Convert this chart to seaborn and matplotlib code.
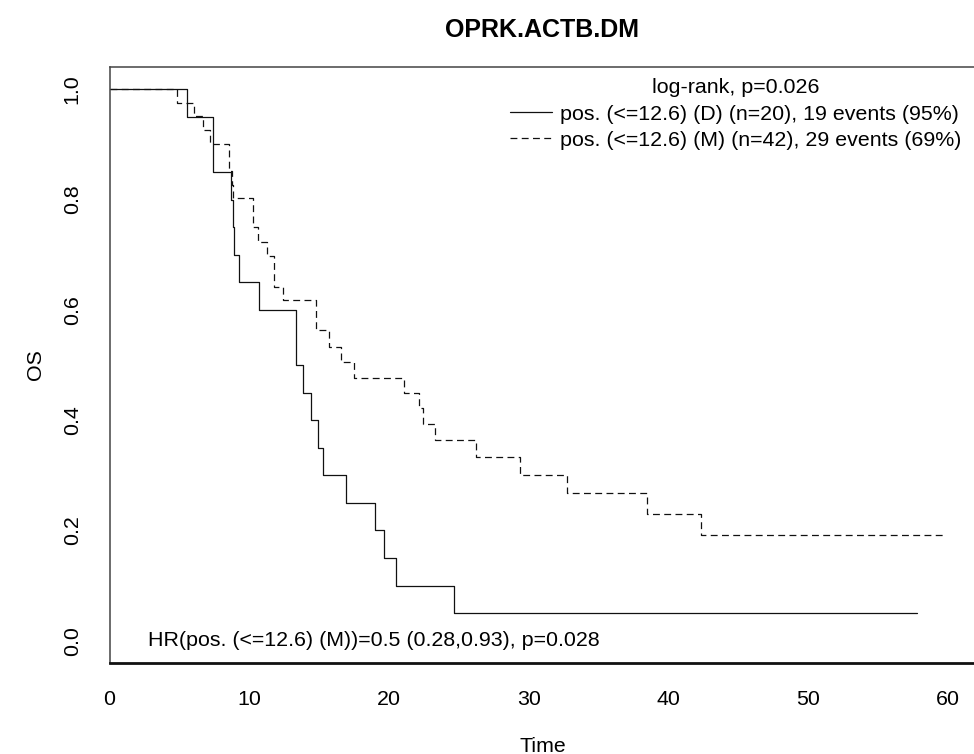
import matplotlib
matplotlib.use("Agg")
import matplotlib.pyplot as plt
import seaborn as sns
import pandas as pd

# ---- data ----
title = "OPRK.ACTB.DM"
x_label = "Time"
y_label = "OS"
legend_title = "log-rank, p=0.026"
label_D = "pos. (<=12.6) (D) (n=20), 19 events (95%)"
label_M = "pos. (<=12.6) (M) (n=42), 29 events (69%)"
hr_text = "HR(pos. (<=12.6) (M))=0.5 (0.28,0.93), p=0.028"

times_D = [0, 5.53, 7.43, 8.68, 8.86, 8.91, 9.29, 10.72, 13.33, 13.83, 14.42,
           14.95, 15.26, 16.91, 18.98, 19.65, 20.49, 24.66, 57.78]
surv_D = [1.0, 0.95, 0.85, 0.80, 0.75, 0.70, 0.65, 0.60, 0.50, 0.45, 0.40,
          0.35, 0.30, 0.25, 0.20, 0.15, 0.10, 0.05, 0.05]

times_M = [0, 4.81, 6.07, 6.71, 7.17, 8.58, 8.75, 8.87, 10.25, 10.65, 11.25,
           11.78, 12.40, 14.78, 15.73, 16.57, 17.50, 21.10, 22.18, 22.46, 23.30,
           26.21, 29.38, 32.73, 38.45, 42.33, 59.74]
surv_M = [1.0, 0.976, 0.952, 0.927, 0.900, 0.851, 0.827, 0.803, 0.751, 0.724, 0.697,
          0.642, 0.618, 0.563, 0.533, 0.505, 0.476, 0.449, 0.422, 0.393, 0.364,
          0.334, 0.301, 0.268, 0.229, 0.192, 0.192]

x_ticks = [0, 10, 20, 30, 40, 50, 60]
y_ticks = [0.0, 0.2, 0.4, 0.6, 0.8, 1.0]

# ---- style ----
sns.set_style("white")
plt.rcParams['font.family'] = ['Liberation Sans', 'DejaVu Sans']
plt.rcParams['text.color'] = 'black'
plt.rcParams['axes.labelcolor'] = 'black'
plt.rcParams['xtick.color'] = 'black'
plt.rcParams['ytick.color'] = 'black'

W, H = 974, 754
fig = plt.figure(figsize=(W / 100, H / 100), dpi=100)
left_px, right_px, top_px, bot_px = 109.5, 974, 67.3, 662.7
ax = fig.add_axes([left_px / W, 1 - bot_px / H, (right_px - left_px) / W, (bot_px - top_px) / H])

dfD = pd.DataFrame({"Time": times_D, "OS": surv_D})
dfM = pd.DataFrame({"Time": times_M, "OS": surv_M})

sns.lineplot(data=dfD, x="Time", y="OS", drawstyle="steps-post", color="#111111",
             lw=0.9, estimator=None, sort=False, ax=ax, legend=False)
sns.lineplot(data=dfM, x="Time", y="OS", drawstyle="steps-post", color="#111111",
             lw=0.9, estimator=None, sort=False, ax=ax, legend=False,
             linestyle=(0, (5.5, 3.5)))

ax.set_xlim(0, 61.88)
ax.set_ylim(-0.04, 1.04)
ax.set_xticks(x_ticks)
ax.set_xticklabels([str(t) for t in x_ticks])
ax.set_yticks(y_ticks)
ax.set_yticklabels([f"{t:.1f}" for t in y_ticks], rotation=90, va="center")

fs = 15.4
ax.tick_params(axis="both", direction="out", length=8, width=0.9, color="#333333",
               labelsize=fs, labelcolor="black")
ax.tick_params(axis="x", pad=12)
ax.tick_params(axis="y", pad=12)

ax.spines["right"].set_visible(False)
for s in ["top", "left"]:
    ax.spines[s].set_linewidth(1.1)
    ax.spines[s].set_color("#444444")
ax.spines["bottom"].set_linewidth(2.0)
ax.spines["bottom"].set_color("#111111")

ax.set_xlabel(x_label, fontsize=fs)
ax.set_ylabel(y_label, fontsize=fs)
ax.xaxis.set_label_coords((543 - left_px) / (right_px - left_px), (bot_px - 746) / (bot_px - top_px))
ax.yaxis.set_label_coords((35 - left_px) / (right_px - left_px), 0.5)
ax.xaxis.label.set_va("center")
ax.yaxis.label.set_va("center")

fig.text(542 / W, 1 - 30 / H, title, ha="center", va="center", fontsize=18, fontweight="bold")

ax.text(2.78, 0.0, hr_text, ha="left", va="center", fontsize=fs)

handles = ax.get_lines()[:2]
leg = ax.legend(handles, [label_D, label_M], title=legend_title, loc="center",
                bbox_to_anchor=(736 / W, 1 - 114 / H), bbox_transform=fig.transFigure,
                frameon=False, fontsize=fs, title_fontsize=fs, handlelength=1.95,
                handletextpad=0.4, labelspacing=0.35, borderaxespad=0, borderpad=0)

fig.savefig("out.png", dpi=100)
